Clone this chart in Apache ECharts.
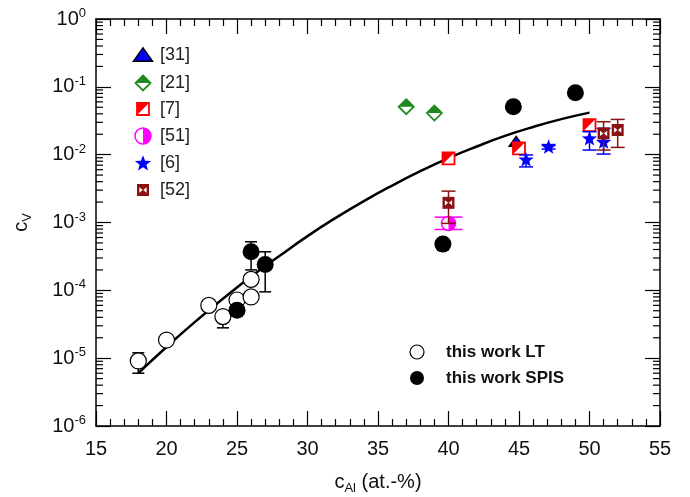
<!DOCTYPE html>
<html>
<head>
<meta charset="utf-8">
<script src="https://cdn.jsdelivr.net/npm/echarts@6/dist/echarts.min.js"></script>
<style>
html,body{margin:0;padding:0;background:#fff;}
#chart{width:690px;height:497px;}
</style>
</head>
<body>
<div id="chart"></div>
<script>
// fit curve
var fitX = [18, 20, 22, 24, 26, 28, 30, 32, 34, 36, 38, 40, 42, 44, 46, 48, 50];
var fitY = [6.0e-6, 1.46e-5, 3.4e-5, 7.5e-5, 1.6e-4, 3.2e-4, 6.3e-4, 1.17e-3, 2.07e-3, 3.5e-3, 5.7e-3, 8.9e-3, 1.32e-2, 1.89e-2, 2.56e-2, 3.34e-2, 4.17e-2];

// this work LT (open circles)
var ltX  = [18, 20, 23, 24, 25, 26, 26];
var ltY  = [9.1e-6, 1.85e-5, 6.0e-5, 4.1e-5, 7.2e-5, 8.0e-5, 1.45e-4];
var ltLo = [6.0e-6, null, null, 2.8e-5, null, null, null];
var ltHi = [1.2e-5, null, null, 4.1e-5, null, null, null];

// this work SPIS (filled circles)
var spX  = [25, 26, 27, 39.6, 44.6, 49];
var spY  = [5.1e-5, 3.7e-4, 2.4e-4, 4.8e-4, 5.1e-2, 8.2e-2];
var spLo = [null, 2.0e-4, 9.5e-5, null, null, null];
var spHi = [null, 5.2e-4, 3.7e-4, null, null, null];

// literature
var r31X = [44.8];
var r31Y = [0.0155];
var r21X = [37, 39];
var r21Y = [0.051, 0.041];
var r7X  = [40, 45, 50];
var r7Y  = [8.8e-3, 0.0124, 0.0273];
var r51X = [40];
var r51Y = [9.7e-4];
var r51Lo = [7.9e-4];
var r51Hi = [1.2e-3];
var r6X  = [45.5, 47.1, 50, 51];
var r6Y  = [8.5e-3, 0.0131, 0.0174, 0.0155];
var r6Lo = [6.6e-3, 0.0121, 0.0117, 0.0102];
var r6Hi = [9.9e-3, 0.0141, 0.0218, 0.0244];
var r52X = [40, 51, 52];
var r52Y = [1.95e-3, 0.0206, 0.0231];
var r52Lo = [9.7e-4, 0.0117, 0.0128];
var r52Hi = [2.9e-3, 0.0306, 0.0331];

var xTicks = [15, 20, 25, 30, 35, 40, 45, 50, 55];

var FONT = 'Liberation Sans, Arial, sans-serif';
var BLUE = '#0000ff', GREEN = '#1f8a1f', RED = '#ff0000', MAG = '#ff00ff', BROWN = '#8b1212';

// marker drawing around (0,0)
function symbolParts(kind, s) {
  var h = s / 2;
  if (kind == 'open') return [{type:'circle', shape:{cx:0,cy:0,r:h}, style:{fill:'#fff', stroke:'#000', lineWidth:1.2}}];
  if (kind == 'filled') return [{type:'circle', shape:{cx:0,cy:0,r:h}, style:{fill:'#000'}}];
  if (kind == 'tri') return [{type:'polygon', shape:{points:[[0,-0.75*h],[h,0.65*h],[-h,0.65*h]]}, style:{fill:BLUE, stroke:'#000', lineWidth:1.5}}];
  if (kind == 'diamond') return [
    {type:'polygon', shape:{points:[[0,-h],[h,0],[0,h],[-h,0]]}, style:{fill:'#fff', stroke:GREEN, lineWidth:1.8}},
    {type:'polygon', shape:{points:[[0,-h],[h,0],[-h,0]]}, style:{fill:GREEN}}
  ];
  if (kind == 'halfsq') return [
    {type:'rect', shape:{x:-h,y:-h,width:s,height:s}, style:{fill:'#fff', stroke:RED, lineWidth:1.8}},
    {type:'polygon', shape:{points:[[-h,-h],[h,-h],[-h,h]]}, style:{fill:RED}}
  ];
  if (kind == 'halfcirc') return [
    {type:'circle', shape:{cx:0,cy:0,r:h}, style:{fill:'#fff', stroke:MAG, lineWidth:1.5}},
    {type:'sector', shape:{cx:0,cy:0,r:h,r0:0,startAngle:-Math.PI/2,endAngle:Math.PI/2}, style:{fill:MAG}}
  ];
  if (kind == 'star') {
    var pts = [];
    for (var i = 0; i < 10; i++) {
      var r = i % 2 ? h * 0.42 : h;
      var a = -Math.PI / 2 + i * Math.PI / 5;
      pts.push([r * Math.cos(a), r * Math.sin(a) + h * 0.08]);
    }
    return [{type:'polygon', shape:{points:pts}, style:{fill:BLUE}}];
  }
  if (kind == 'bowtie') return [
    {type:'rect', shape:{x:-h,y:-h,width:s,height:s}, style:{fill:BROWN}},
    {type:'polygon', shape:{points:[[-h*0.6,-h*0.45],[-h*0.6,h*0.45],[-h*0.05,0]]}, style:{fill:'#fff'}},
    {type:'polygon', shape:{points:[[h*0.6,-h*0.45],[h*0.6,h*0.45],[h*0.05,0]]}, style:{fill:'#fff'}}
  ];
  return [];
}

function rows(x, y, lo, hi) {
  return x.map(function (v, i) {
    return [v, y[i], lo ? lo[i] : null, hi ? hi[i] : null];
  });
}

function markerSeries(name, kind, size, color, cap, data) {
  return {
    name: name, type: 'custom', coordinateSystem: 'cartesian2d',
    dimensions: ['x', 'y', 'lo', 'hi'], encode: {x: 0, y: 1},
    data: data, z: 5, silent: true,
    renderItem: function (params, api) {
      var xv = api.value(0), yv = api.value(1), lo = api.value(2), hi = api.value(3);
      var p = api.coord([xv, yv]);
      var kids = [];
      var ls = {stroke: color, lineWidth: 1.5};
      if (isFinite(lo) && lo > 0 && isFinite(hi) && hi > 0) {
        var a = api.coord([xv, lo]), b = api.coord([xv, hi]);
        kids.push({type:'line', shape:{x1:p[0], y1:a[1], x2:p[0], y2:b[1]}, style:ls});
        if (lo < yv) kids.push({type:'line', shape:{x1:p[0]-cap, y1:a[1], x2:p[0]+cap, y2:a[1]}, style:ls});
        if (hi > yv) kids.push({type:'line', shape:{x1:p[0]-cap, y1:b[1], x2:p[0]+cap, y2:b[1]}, style:ls});
      }
      kids.push({type:'group', x:p[0], y:p[1], children:symbolParts(kind, size)});
      return {type:'group', children:kids};
    }
  };
}

// minor ticks for the log axes at 2..9 of each decade
var minorVals = [];
for (var d = -6; d < 0; d++) {
  for (var m = 2; m <= 9; m++) minorVals.push([15, m * Math.pow(10, d)]);
}

var chart = echarts.init(document.getElementById('chart'));

var axisBase = {
  type: 'value', min: 15, max: 55, interval: 5,
  axisLine: {onZero: false, lineStyle: {color: '#000', width: 1.5}},
  axisTick: {inside: true, length: 15, lineStyle: {color: '#000', width: 1.2}},
  minorTick: {show: true, splitNumber: 5, length: 7, lineStyle: {color: '#000', width: 1.2}},
  splitLine: {show: false}
};
var yBase = {
  type: 'log', logBase: 10, min: 1e-6, max: 1, splitNumber: 6,
  axisLine: {onZero: false, lineStyle: {color: '#000', width: 1.5}},
  axisTick: {inside: true, length: 15, lineStyle: {color: '#000', width: 1.2}},
  splitLine: {show: false}
};

var legendItems = [
  ['tri', 19, '[31]'], ['diamond', 15, '[21]'], ['halfsq', 12, '[7]'],
  ['halfcirc', 16, '[51]'], ['star', 17, '[6]'], ['bowtie', 12, '[52]']
];
var legendY = [55, 83, 109, 136, 163, 190];
var graphics = [];
legendItems.forEach(function (it, i) {
  graphics.push({type:'group', x:143, y:legendY[i], children:symbolParts(it[0], it[1])});
  graphics.push({type:'text', x:160, y:legendY[i], style:{text:it[2], fontSize:18, fontFamily:FONT, fill:'#222', verticalAlign:'middle'}});
});
graphics.push({type:'group', x:417, y:352, children:symbolParts('open', 14)});
graphics.push({type:'text', x:446, y:352, style:{text:'this work LT', fontSize:17, fontWeight:'bold', fontFamily:FONT, fill:'#111', verticalAlign:'middle'}});
graphics.push({type:'group', x:417, y:378, children:symbolParts('filled', 14)});
graphics.push({type:'text', x:446, y:378, style:{text:'this work SPIS', fontSize:17, fontWeight:'bold', fontFamily:FONT, fill:'#111', verticalAlign:'middle'}});

var option = {
  animation: false,
  backgroundColor: '#fff',
  grid: {left: 96, right: 30, top: 19, bottom: 71, containLabel: false, outerBoundsMode: 'none'},
  xAxis: [
    Object.assign({}, axisBase, {
      position: 'bottom',
      axisLabel: {fontSize: 20, color: '#111', margin: 13, fontFamily: FONT,
        formatter: function (v) { return xTicks.indexOf(v) >= 0 ? String(v) : ''; }},
      name: '{c|c}{s|Al}{c| (at.-%)}', nameLocation: 'middle', nameGap: 43,
      nameTextStyle: {rich: {
        c: {fontSize: 20, lineHeight: 26, color: '#111', fontFamily: FONT},
        s: {fontSize: 13, lineHeight: 13, color: '#111', fontFamily: FONT, verticalAlign: 'bottom'}
      }}
    }),
    Object.assign({}, axisBase, {position: 'top', axisLabel: {show: false}})
  ],
  yAxis: [
    Object.assign({}, yBase, {
      position: 'left',
      axisLabel: {margin: 10, fontFamily: FONT,
        formatter: function (v) {
          var e = Math.round(Math.log(v) / Math.LN10);
          return '{b|10}{s|' + e + '}';
        },
        rich: {
          b: {fontSize: 20, lineHeight: 24, color: '#111', fontFamily: FONT},
          s: {fontSize: 13, lineHeight: 13, color: '#111', fontFamily: FONT, verticalAlign: 'top'}
        }},
      name: '{c|c}{s|V}', nameLocation: 'middle', nameGap: 62, nameRotate: 90,
      nameTextStyle: {rich: {
        c: {fontSize: 20, lineHeight: 26, color: '#111', fontFamily: FONT},
        s: {fontSize: 13, lineHeight: 13, color: '#111', fontFamily: FONT, verticalAlign: 'bottom'}
      }}
    }),
    Object.assign({}, yBase, {position: 'right', axisLabel: {show: false}})
  ],
  graphic: graphics,
  series: [
    {
      type: 'custom', coordinateSystem: 'cartesian2d', silent: true, z: 3,
      data: minorVals, encode: {x: 0, y: 1},
      renderItem: function (params, api) {
        var v = api.value(1);
        var a = api.coord([15, v]), b = api.coord([55, v]);
        var st = {stroke: '#000', lineWidth: 1.2};
        return {type:'group', children:[
          {type:'line', shape:{x1:a[0], y1:a[1], x2:a[0]+7, y2:a[1]}, style:st},
          {type:'line', shape:{x1:b[0], y1:b[1], x2:b[0]-7, y2:b[1]}, style:st}
        ]};
      }
    },
    {
      type: 'line', data: fitX.map(function (v, i) { return [v, fitY[i]]; }),
      smooth: true, showSymbol: false, silent: true, z: 4,
      lineStyle: {color: '#000', width: 2.5}
    },
    markerSeries('[31]', 'tri', 14, BLUE, 6, rows(r31X, r31Y)),
    markerSeries('[21]', 'diamond', 15, GREEN, 6, rows(r21X, r21Y)),
    markerSeries('[7]', 'halfsq', 12, RED, 6, rows(r7X, r7Y)),
    markerSeries('[51]', 'halfcirc', 14, MAG, 14, rows(r51X, r51Y, r51Lo, r51Hi)),
    markerSeries('[6]', 'star', 16, BLUE, 7, rows(r6X, r6Y, r6Lo, r6Hi)),
    markerSeries('[52]', 'bowtie', 12, BROWN, 7, rows(r52X, r52Y, r52Lo, r52Hi)),
    markerSeries('this work LT', 'open', 16, '#000', 6, rows(ltX, ltY, ltLo, ltHi)),
    markerSeries('this work SPIS', 'filled', 17, '#000', 6, rows(spX, spY, spLo, spHi))
  ]
};
chart.setOption(option);
</script>
</body>
</html>
